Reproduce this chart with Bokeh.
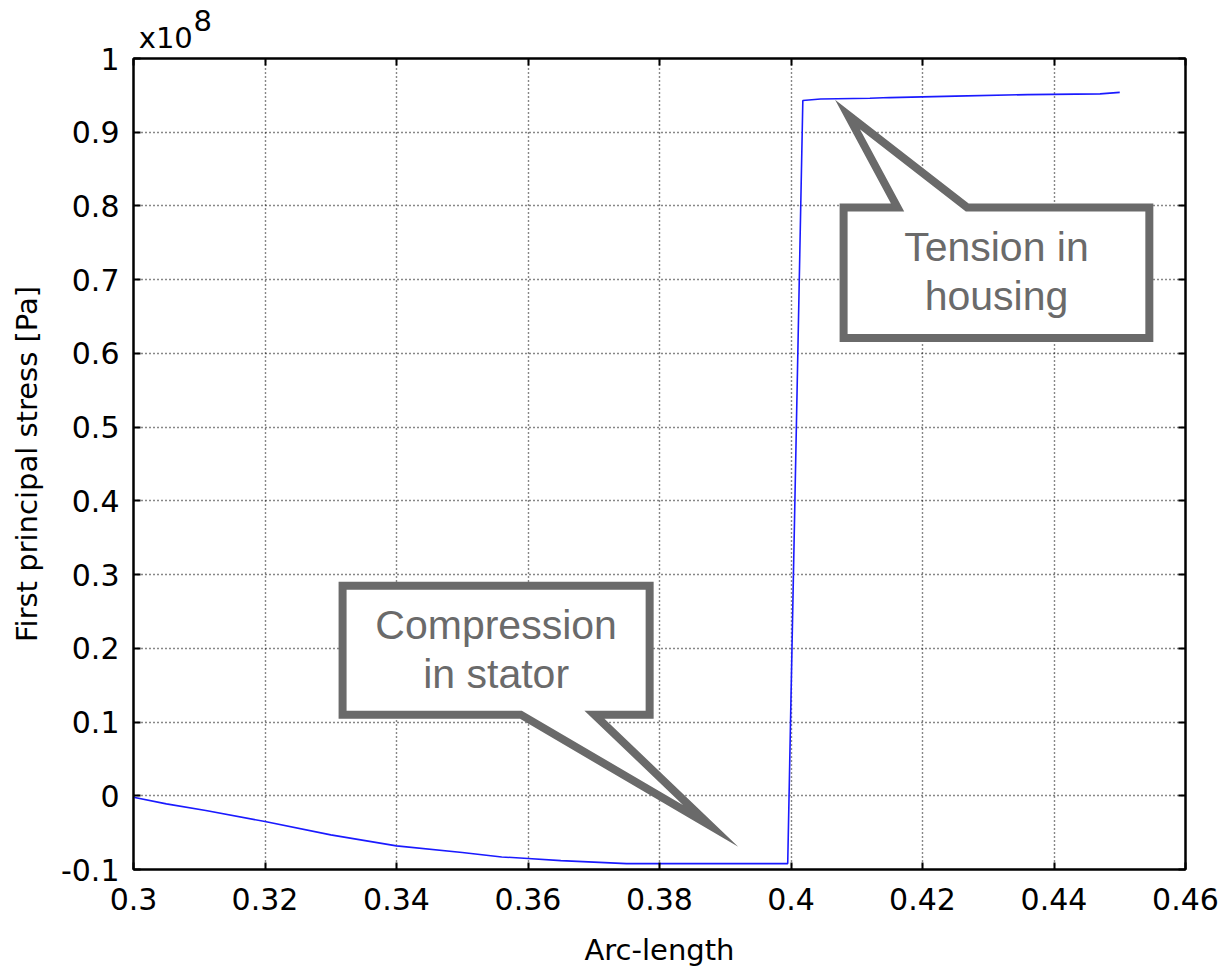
from bokeh.plotting import figure
from bokeh.models import LinearAxis, FixedTicker, Label, Range1d
from bokeh.embed import file_html
from bokeh.resources import INLINE

# Stress along the arc-length of the cut line (stator -> housing)
arc_length = [0.300, 0.305, 0.311, 0.320, 0.330, 0.340, 0.350, 0.356, 0.360,
              0.365, 0.370, 0.375, 0.380, 0.390, 0.3995, 0.4018, 0.4045, 0.412,
              0.415, 0.425, 0.436, 0.447, 0.450]
stress_pa = [-0.2e6, -1.1e6, -2.0e6, -3.5e6, -5.3e6, -6.8e6, -7.7e6, -8.3e6, -8.5e6,
             -8.8e6, -9.0e6, -9.2e6, -9.2e6, -9.2e6, -9.2e6, 94.3e6, 94.5e6, 94.6e6,
             94.7e6, 94.9e6, 95.1e6, 95.2e6, 95.4e6]
SCALE = 1e8
SCALE_TEXT = "x10"
SCALE_EXP = "8"

x_ticks = [0.30, 0.32, 0.34, 0.36, 0.38, 0.40, 0.42, 0.44, 0.46]
x_tick_labels = ["0.3", "0.32", "0.34", "0.36", "0.38", "0.4", "0.42", "0.44", "0.46"]
y_ticks = [-0.1, 0.0, 0.1, 0.2, 0.3, 0.4, 0.5, 0.6, 0.7, 0.8, 0.9, 1.0]
y_tick_labels = ["-0.1", "0", "0.1", "0.2", "0.3", "0.4", "0.5", "0.6", "0.7", "0.8", "0.9", "1"]

# Callouts: box corners (data units), tail base along the box edge, tail tip
tension_box = dict(left=0.4080, right=0.4545, top=0.798, bottom=0.621,
                   base=(0.4162, 0.4268), tip=(0.4086, 0.924), edge="top",
                   lines=["Tension in", "housing"])
compression_box = dict(left=0.3318, right=0.3785, top=0.2847, bottom=0.110,
                       base=(0.3589, 0.3701), tip=(0.3878, -0.041), edge="bottom",
                       lines=["Compression", "in stator"])

FONT = "DejaVu Sans"
CALLOUT_GRAY = "#6a6a6a"

p = figure(width=1221, height=969, output_backend="svg", toolbar_location=None,
           x_range=Range1d(0.3, 0.46), y_range=Range1d(-0.1, 1.0),
           min_border_left=133, min_border_right=36, min_border_top=58,
           min_border_bottom=99, x_axis_label="Arc-length",
           y_axis_label="First principal stress [Pa]")
p.background_fill_color = "white"
p.border_fill_color = "white"
p.outline_line_color = "black"
p.outline_line_width = 2

ys = [v / SCALE for v in stress_pa]

# grid
for g in (p.xgrid, p.ygrid):
    g.grid_line_color = "#111111"
    g.grid_line_dash = "1 3"
    g.grid_line_width = 1.4
p.xgrid.ticker = FixedTicker(ticks=x_ticks)
p.ygrid.ticker = FixedTicker(ticks=y_ticks)


def style_axis(ax, ticks, labels, font_size):
    ax.ticker = FixedTicker(ticks=ticks)
    ax.major_label_overrides = {t: l for t, l in zip(ticks, labels)}
    ax.minor_tick_line_color = None
    ax.major_tick_in = 7
    ax.major_tick_out = 0
    ax.major_tick_line_width = 2
    ax.major_tick_line_color = "black"
    ax.axis_line_color = "black"
    ax.axis_line_width = 2
    ax.major_label_text_font = FONT
    ax.major_label_text_color = "black"
    ax.major_label_text_font_size = font_size


style_axis(p.xaxis[0], x_ticks, x_tick_labels, "30px")
style_axis(p.yaxis[0], y_ticks, y_tick_labels, "30px")
p.xaxis[0].major_label_standoff = 18
p.yaxis[0].major_label_standoff = 14
for ax in (p.xaxis[0], p.yaxis[0]):
    ax.axis_label_text_font = FONT
    ax.axis_label_text_font_size = "29px"
    ax.axis_label_text_font_style = "normal"
    ax.axis_label_text_color = "black"
p.xaxis[0].axis_label_standoff = 20
p.yaxis[0].axis_label_standoff = 14

# top axis: mirrored ticks, and the common scale factor written at its left end
# (the label block is centred on its tick, so it is padded on the left to start there)
nbsp = "\u00a0"
scale_label = nbsp * 15 + SCALE_EXP + "\n" + nbsp * 7 + SCALE_TEXT
top_labels = [scale_label] + [""] * (len(x_ticks) - 1)
top_axis = LinearAxis()
style_axis(top_axis, x_ticks, top_labels, "29px")
top_axis.major_label_text_align = "left"
top_axis.major_label_text_line_height = 0.5
top_axis.major_label_standoff = 4
p.add_layout(top_axis, "above")

right_axis = LinearAxis()
style_axis(right_axis, y_ticks, [""] * len(y_ticks), "0px")
right_axis.major_label_standoff = 0
p.add_layout(right_axis, "right")

# the stress curve
p.line(arc_length, ys, line_color="#1a1aff", line_width=1.6)


def draw_callout(c):
    l, r, t, b = c["left"], c["right"], c["top"], c["bottom"]
    b0, b1 = c["base"]
    tx, ty = c["tip"]
    if c["edge"] == "top":
        xs = [l, b0, tx, b1, r, r, l]
        yv = [t, t, ty, t, t, b, b]
    else:
        xs = [l, r, r, b1, tx, b0, l]
        yv = [t, t, b, b, ty, b, b]
    p.patch(xs, yv, fill_color="white", line_color=CALLOUT_GRAY,
            line_width=8, line_join="miter")
    cx = (l + r) / 2
    cy = (t + b) / 2
    n = len(c["lines"])
    for i, txt in enumerate(c["lines"]):
        p.add_layout(Label(x=cx, y=cy, text=txt, text_align="center",
                           text_baseline="middle", text_font="Liberation Sans",
                           text_font_size="41px", text_color=CALLOUT_GRAY,
                           y_offset=13 + (n - 1) / 2 * 25 - i * 49))


draw_callout(tension_box)
draw_callout(compression_box)

open("out.html", "w").write(file_html(p, INLINE))
